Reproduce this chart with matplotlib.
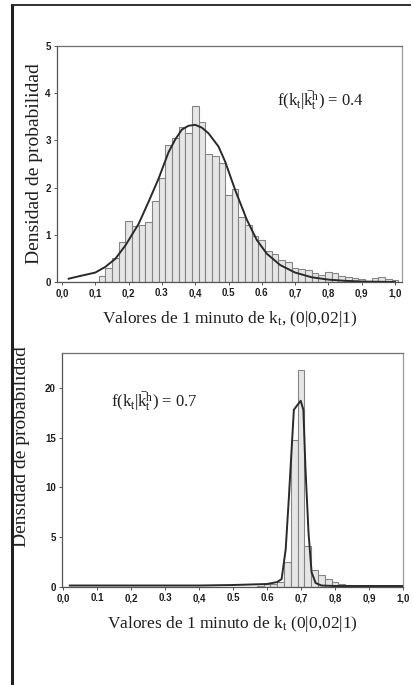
import numpy as np
import matplotlib
matplotlib.use("Agg")
import matplotlib.pyplot as plt
from matplotlib.lines import Line2D

plt.rcParams["mathtext.fontset"] = "custom"
plt.rcParams["mathtext.rm"] = "Liberation Serif"
plt.rcParams["mathtext.it"] = "Liberation Serif:italic"
plt.rcParams["mathtext.default"] = "regular"

# ---- data -------------------------------------------------------------
bin_centers = np.round(np.arange(0.0, 1.0001, 0.02), 2)

# histogram of 1-minute k_t values, hourly mean 0.4
dens_04 = [0, 0, 0, 0, 0, 0, 0.13, 0.30, 0.50, 0.85,
           1.30, 1.18, 1.20, 1.27, 1.72, 2.20, 2.90, 3.05, 3.28, 3.15,
           3.72, 3.38, 2.72, 2.66, 2.53, 1.85, 1.96, 1.38, 1.21, 0.98,
           0.90, 0.66, 0.60, 0.47, 0.42, 0.30, 0.27, 0.26, 0.20, 0.15,
           0.22, 0.19, 0.13, 0.10, 0.08, 0.07, 0.03, 0.08, 0.10, 0.06,
           0.05]
fit_x_04 = [0.02, 0.05, 0.10, 0.13, 0.16, 0.19, 0.23, 0.26, 0.29, 0.32,
            0.34, 0.36, 0.38, 0.40, 0.42, 0.44, 0.47, 0.49, 0.52, 0.555,
            0.585, 0.615, 0.655, 0.70, 0.75, 0.80, 0.85, 0.90, 0.95, 1.00]
fit_y_04 = [0.07, 0.12, 0.20, 0.32, 0.49, 0.77, 1.23, 1.70, 2.19, 2.75,
            3.02, 3.23, 3.31, 3.33, 3.27, 3.15, 2.87, 2.55, 1.95, 1.32,
            0.89, 0.60, 0.36, 0.20, 0.10, 0.05, 0.025, 0.01, 0.005, 0.0]

# histogram of 1-minute k_t values, hourly mean 0.7
dens_07 = [0, 0, 0, 0, 0, 0, 0, 0, 0, 0,
           0, 0, 0, 0, 0, 0, 0, 0, 0, 0,
           0, 0, 0, 0, 0, 0.05, 0.05, 0.05, 0.05, 0.15,
           0.30, 0.35, 0.50, 2.50, 14.8, 21.8, 4.10, 1.70, 1.20, 0.80,
           0.55, 0.35, 0.20, 0.10, 0.05, 0.05, 0.05, 0.05, 0.05, 0.05,
           0.05]
fit_x_07 = [0.02, 0.10, 0.20, 0.30, 0.40, 0.50, 0.55, 0.60, 0.63, 0.643,
            0.655, 0.664, 0.679, 0.690, 0.699, 0.707, 0.713, 0.722, 0.731,
            0.743, 0.76, 0.80, 0.90, 1.00]
fit_y_07 = [0.15, 0.15, 0.15, 0.15, 0.15, 0.20, 0.25, 0.30, 0.50, 0.80,
            3.80, 8.80, 17.8, 18.3, 18.7, 17.8, 12.0, 5.50, 1.50,
            0.40, 0.15, 0.10, 0.10, 0.10]

xticks = [0.0, 0.1, 0.2, 0.3, 0.4, 0.5, 0.6, 0.7, 0.8, 0.9, 1.0]
xtick_labels_top = ["0,0", "0,1", "0,2", "0.3", "0,4", "0.5", "0.6", "0,7", "0,8", "0,9", "1,0"]
xtick_labels_bot = ["0,0", "0.1", "0,2", "0.3", "0,4", "0.5", "0.6", "0,7", "0,8", "0,9", "1,0"]
yticks_top = [0, 1, 2, 3, 4, 5]
yticks_bot = [0, 5, 10, 15, 20]

ylabel = "Densidad de probabilidad"
xlabel_top = "Valores de 1 minuto de k$_t$, (0|0,02|1)"
xlabel_bot = "Valores de 1 minuto de k$_t$ (0|0,02|1)"
note_top = r"f(k$_t$|$\bar{k}_t^h$) = 0.4"
note_bot = r"f(k$_t$|$\bar{k}_t^h$) = 0.7"

# ---- styling ------------------------------------------------------------
W, H = 413, 685
fig = plt.figure(figsize=(W / 100, H / 100), dpi=100)
fig.patch.set_facecolor("white")

serif = "Liberation Serif"
sans = "Liberation Sans"
txt = "#1e1e1e"
bar_face = "#e6e6e6"
bar_edge = "#858585"
line_col = "#2a2a2a"


def style_axes(ax):
    for side in ("top", "right"):
        ax.spines[side].set_color("#9a9a9a")
        ax.spines[side].set_linewidth(0.9)
    for side in ("left", "bottom"):
        ax.spines[side].set_color("#555555")
        ax.spines[side].set_linewidth(0.9)
    ax.spines["top"].set_color("#6e6e6e")
    ax.tick_params(direction="out", length=2.5, width=0.7, color="#555555",
                   labelsize=7, labelcolor=txt, pad=2)
    for lab in ax.get_xticklabels() + ax.get_yticklabels():
        lab.set_fontfamily(sans)
        lab.set_fontweight("bold")


def px_axes(left, top, right, bottom):
    return fig.add_axes([left / W, 1 - bottom / H, (right - left) / W, (bottom - top) / H])


# top panel
ax1 = px_axes(57, 46, 402, 282)
ax1.bar(bin_centers, dens_04, width=0.02, color=bar_face, edgecolor=bar_edge,
        linewidth=0.8, zorder=2)
ax1.plot(fit_x_04, fit_y_04, color=line_col, lw=1.4, zorder=3)
ax1.set_xlim(-0.015, 1.021)
ax1.set_ylim(0, 5)
ax1.set_xticks(xticks)
ax1.set_xticklabels(xtick_labels_top)
ax1.set_yticks(yticks_top)
style_axes(ax1)
ax1.text(0.645, 3.85, note_top, fontsize=12, family=serif, color=txt,
         ha="left", va="center")
ax1.set_ylabel(ylabel, fontsize=14, family=serif, color=txt)
ax1.yaxis.set_label_coords(-0.042, 0.5)
ax1.set_xlabel(xlabel_top, fontsize=12.5, family=serif, color=txt, labelpad=8)

# bottom panel
ax2 = px_axes(62, 353, 403, 587)
ax2.bar(bin_centers, dens_07, width=0.02, color=bar_face, edgecolor=bar_edge,
        linewidth=0.8, zorder=2)
ax2.plot(fit_x_07, fit_y_07, color=line_col, lw=1.4, zorder=3)
ax2.set_xlim(-0.003, 1.0)
ax2.set_ylim(0, 23.5)
ax2.set_xticks(xticks)
ax2.set_xticklabels(xtick_labels_bot)
ax2.set_yticks(yticks_bot)
style_axes(ax2)
ax2.text(0.14, 18.6, note_bot, fontsize=12, family=serif, color=txt,
         ha="left", va="center")
ax2.set_ylabel(ylabel, fontsize=14, family=serif, color=txt)
ax2.yaxis.set_label_coords(-0.095, 0.6)
ax2.set_xlabel(xlabel_bot, fontsize=12.5, family=serif, color=txt, labelpad=8)

# page frame around the figure block
fig.add_artist(Line2D([12 / W, 12 / W], [0, 1 - 5 / H], color="#202020", lw=2.2))
fig.add_artist(Line2D([12 / W, 410 / W], [1 - 5 / H, 1 - 5 / H], color="#303030", lw=1.4))

fig.savefig("out.png", dpi=100)
